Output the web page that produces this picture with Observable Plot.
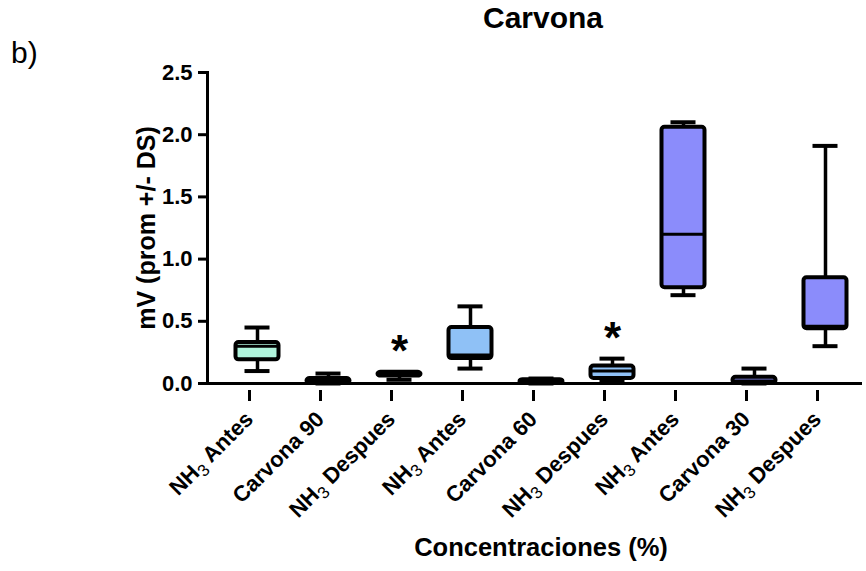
<!DOCTYPE html>
<html>
<head>
<meta charset="utf-8">
<script src="https://cdn.jsdelivr.net/npm/d3@7"></script>
<script src="https://cdn.jsdelivr.net/npm/@observablehq/plot@0.6"></script>
<style>
  html, body { margin: 0; padding: 0; background: #fff; }
  #fig { position: relative; width: 866px; height: 571px; font-family: "Liberation Sans", Arial, sans-serif; }
  #title { position: absolute; left: 0; width: 866px; top: 1px; text-align: center; padding-left: 220px; box-sizing: border-box; font-weight: bold; font-size: 30px; }
  #tag { position: absolute; left: 11px; top: 36px; font-size: 30px; }
  #chart { position: absolute; left: 0; top: 0; }
</style>
</head>
<body>
<div id="fig">
  <div id="chart"></div>
  <div id="title">Carvona</div>
  <div id="tag">b)</div>
</div>
<script>
// ---- data ----
const labels = ["NH3 Antes", "Carvona 90", "NH3 Despues", "NH3 Antes", "Carvona 60", "NH3 Despues", "NH3 Antes", "Carvona 30", "NH3 Despues"];
const whiskerLow  = [0.10, 0.00, 0.03, 0.12, 0.00, 0.02, 0.71, 0.00, 0.30];
const q1          = [0.19, 0.00, 0.06, 0.20, 0.00, 0.04, 0.77, 0.00, 0.44];
const median      = [0.30, 0.02, 0.07, 0.23, 0.01, 0.10, 1.20, 0.02, 0.46];
const q3          = [0.33, 0.04, 0.09, 0.45, 0.03, 0.14, 2.06, 0.05, 0.85];
const whiskerHigh = [0.45, 0.08, 0.09, 0.62, 0.04, 0.20, 2.10, 0.12, 1.91];
const marks       = ["", "", "*", "", "", "*", "", "", ""];
const yTicks = [0, 0.5, 1.0, 1.5, 2.0, 2.5];
const palette = ["#b0f4dc", "#b0f4dc", "#b0f4dc", "#8fc1f6", "#8fc1f6", "#8fc1f6", "#8b8cfb", "#8b8cfb", "#8b8cfb"];

const rows = labels.map((l, i) => ({
  i, label: l, lo: whiskerLow[i], q1: q1[i], med: median[i], q3: q3[i], hi: whiskerHigh[i], mark: marks[i], fill: palette[i]
}));
const starRows = rows.filter(d => d.mark);

const FONT = "Liberation Sans, Arial, sans-serif";

const chart = Plot.plot({
  width: 866,
  height: 571,
  marginLeft: 207,
  marginRight: 4,
  marginTop: 72,
  marginBottom: 188,
  style: { fontFamily: FONT, color: "#000", background: "transparent" },
  x: { domain: d3.range(labels.length), range: [221.5, 860.5], padding: 0, round: false },
  y: { domain: [0, 2.5] },
  marks: [
    Plot.ruleX(rows, { x: "i", y1: "lo", y2: "hi", stroke: "#000", strokeWidth: 3.5 }),
    Plot.barY(rows, { x: "i", y1: "q1", y2: "q3", fill: "fill", stroke: "#000", strokeWidth: 4, insetLeft: 14, insetRight: 14, rx: 3 }),
    Plot.tickY(rows, { x: "i", y: "med", stroke: "#000", strokeWidth: 3, insetLeft: 14, insetRight: 14 }),
    Plot.tickY(rows, { x: "i", y: "hi", stroke: "#000", strokeWidth: 4, insetLeft: 23, insetRight: 23 }),
    Plot.tickY(rows, { x: "i", y: "lo", stroke: "#000", strokeWidth: 4, insetLeft: 23, insetRight: 23 }),
    Plot.text(starRows, { x: "i", y: "hi", text: "mark", fontSize: 44, fontWeight: "bold", dy: -20, fill: "#000" }),
    Plot.ruleY([0], { stroke: "#000", strokeWidth: 3 }),
    Plot.frame({ anchor: "left", stroke: "#000", strokeWidth: 3 }),
    Plot.axisY({
      ticks: yTicks, tickFormat: d3.format(".1f"), tickSize: 9, tickPadding: 6,
      fontSize: 22, fontWeight: "bold", strokeWidth: 3, label: null
    }),
    Plot.axisX({
      tickFormat: i => labels[i], tickRotate: -45, tickSize: 11, tickPadding: 14, dx: -8, dy: 7,
      fontSize: 22, fontWeight: "bold", strokeWidth: 3, label: null
    }),
    Plot.text(["mV (prom +/- DS)"], { frameAnchor: "left", textAnchor: "middle", rotate: -90, dx: -61, fontSize: 25, fontWeight: "bold", fill: "#000" }),
    Plot.text(["Concentraciones (%)"], { frameAnchor: "bottom", dy: 172, dx: 6, fontSize: 25.5, fontWeight: "bold", fill: "#000" })
  ]
});

document.getElementById("chart").appendChild(chart);

// Subscript "3" in NH3 tick labels
const svgNS = "http://www.w3.org/2000/svg";
d3.select(chart).selectAll('g[aria-label="x-axis tick label"] text').each(function () {
  const t = this.textContent;
  if (!t.startsWith("NH3")) return;
  const rest = t.slice(3);
  this.textContent = "";
  const a = document.createElementNS(svgNS, "tspan"); a.textContent = "NH"; this.appendChild(a);
  const s = document.createElementNS(svgNS, "tspan"); s.textContent = "3";
  s.setAttribute("font-size", "17"); s.setAttribute("font-weight", "normal"); s.setAttribute("dy", "5");
  this.appendChild(s);
  const b = document.createElementNS(svgNS, "tspan"); b.textContent = rest; b.setAttribute("dy", "-5");
  this.appendChild(b);
});
</script>
</body>
</html>
